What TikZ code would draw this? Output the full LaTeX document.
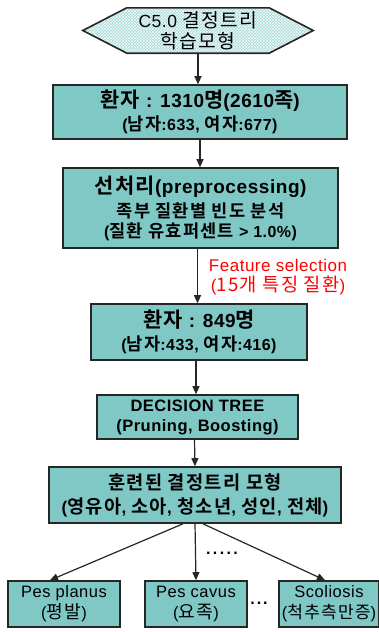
\documentclass[tikz,border=0pt]{standalone}
\usepackage{fontspec}
\setmainfont{Liberation Sans}[LetterSpace=3]
\newfontfamily\kr{Noto Sans CJK KR}[BoldFont={Noto Sans CJK KR Bold},LetterSpace=7,Scale=1.1]
\usetikzlibrary{arrows.meta,calc,patterns}
\definecolor{tealfill}{HTML}{80C8C6}
\definecolor{hexfill}{HTML}{A6DAD8}
\definecolor{edge}{HTML}{262626}
\newcommand{\fs}[2]{\fontsize{#1}{#2}\selectfont}
\tikzset{
  box/.style={draw=edge,line width=1.6pt,fill=tealfill,align=center,inner sep=0pt},
  conn/.style={draw=edge,line width=1.2pt,-{Triangle[length=8pt,width=7pt]}},
}
\begin{document}
\begin{tikzpicture}[x=1pt,y=-1pt]
\useasboundingbox (0,0) rectangle (378,632);
% hexagon
\node (hex) at (198,30.5) [minimum width=230pt,minimum height=45pt,inner sep=0pt] {};
\path[fill=hexfill] (hex.west) -- ($(hex.north west)+(44pt,0)$) -- ($(hex.north east)+(-44pt,0)$) -- (hex.east) -- ($(hex.south east)+(-44pt,0)$) -- ($(hex.south west)+(44pt,0)$) -- cycle;
\path[pattern=crosshatch,pattern color=white!85!hexfill] (hex.west) -- ($(hex.north west)+(44pt,0)$) -- ($(hex.north east)+(-44pt,0)$) -- (hex.east) -- ($(hex.south east)+(-44pt,0)$) -- ($(hex.south west)+(44pt,0)$) -- cycle;
\draw[edge,line width=1.6pt,line join=miter] (hex.west) -- ($(hex.north west)+(44pt,0)$) -- ($(hex.north east)+(-44pt,0)$) -- (hex.east) -- ($(hex.south east)+(-44pt,0)$) -- ($(hex.south west)+(44pt,0)$) -- cycle;
\node (hext) at (hex.center) [align=center,font=\fs{17.5}{21}] {C5.0 {\kr 결정트리}\\{\kr 학습모형}};

\node (b1) at (200,112) [box,font=\bfseries\fs{19}{23},minimum width=294pt,minimum height=54pt] {{\kr 환자} : 1310{\kr 명}(2610{\kr 족})\\{\fs{16}{18}({\kr 남자}:633, {\kr 여자}:677)}};
\node (b2) at (200.5,208) [box,font=\bfseries\fs{19}{20},minimum width=275pt,minimum height=80pt] {{\kr 선처리}(preprocessing)\\[4pt]{\fs{16}{18}\kr 족부 질환별 빈도 분석}\\{\fs{16}{18}({\kr 질환 유효퍼센트} > 1.0\%)}};
\node (b3) at (199,332) [box,font=\bfseries\fs{19}{23},minimum width=216pt,minimum height=56pt] {{\kr 환자} : 849{\kr 명}\\{\fs{16}{18}({\kr 남자}:433, {\kr 여자}:416)}};
\node (b4) at (197.5,417) [box,font=\bfseries\fs{16.5}{20},minimum width=201pt,minimum height=44pt] {DECISION TREE\\(Pruning, Boosting)};
\node (b5) at (195,495) [box,font=\bfseries\fs{17}{24},minimum width=292pt,minimum height=56pt] {{\kr 훈련된 결정트리 모형}\\({\kr 영유아}, {\kr 소아}, {\kr 청소년}, {\kr 성인}, {\kr 전체})};

\node (pa) at (64,604) [box,font=\fs{16.5}{21},minimum width=112pt,minimum height=46pt] {Pes planus\\({\kr 평발})};
\node (pb) at (196,604) [box,font=\fs{16.5}{21},minimum width=102pt,minimum height=46pt] {Pes cavus\\({\kr 요족})};
\node (pc) at (329,604) [box,font=\fs{16.5}{21},minimum width=100pt,minimum height=46pt] {Scoliosis\\({\fs{15.5}{21}\kr 척추측만증})};

\node (fs) at (278,277) [text=red,align=center,font=\fs{17}{20}] {Feature selection\\({\kr 15개 특징 질환})};
\node (dots1) at (222,553) [font=\bfseries\fs{16}{18}] {.\kern2.4pt.\kern2.4pt.\kern2.4pt.\kern2.4pt.};
\node (dots2) at (259,603) [font=\bfseries\fs{16}{18}] {.\kern2pt.\kern2pt.};

\coordinate (sl) at ($(b5.south)+(-12pt,0)$);
\coordinate (sr) at ($(b5.south)+(8pt,0)$);
\coordinate (ta) at ($(pa.north)+(-14pt,0)$);
\coordinate (tc) at ($(pc.north)+(-4pt,0)$);

\draw[conn] (hex.south) -- (hex.south |- b1.north);
\draw[conn] (b1.south) -- (b1.south |- b2.north);
\draw[conn] ($(b2.south)+(-3pt,0)$) -- ($(b2.south |- b3.north)+(-3pt,0)$);
\draw[conn] ($(b3.south)+(-3pt,0)$) -- ($(b3.south |- b4.north)+(-3pt,0)$);
\draw[conn] ($(b4.south)+(-3pt,0)$) -- (b5.north);
\draw[conn] (sl) -- (ta);
\draw[conn] (b5.south) -- (pb.north);
\draw[conn] (sr) -- (tc);
\end{tikzpicture}
\end{document}
